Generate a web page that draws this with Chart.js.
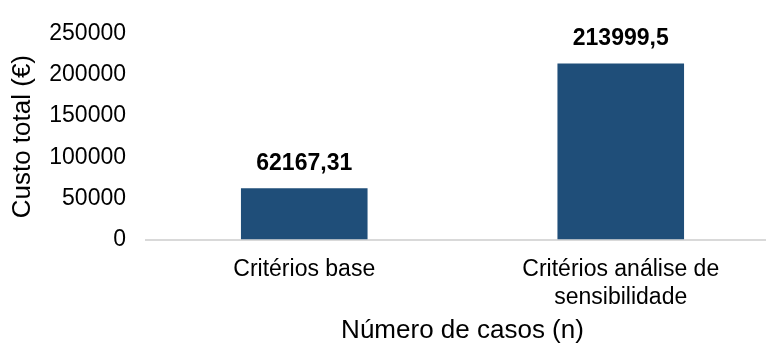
<!DOCTYPE html>
<html>
<head>
<meta charset="utf-8">
<script src="https://cdn.jsdelivr.net/npm/chart.js@4.4.0/dist/chart.umd.min.js"></script>
<style>
  html, body { margin: 0; padding: 0; background: #fff; }
  #wrap { width: 766px; height: 344px; }
</style>
</head>
<body>
<div id="wrap"><canvas id="chart"></canvas></div>
<script>
// --- DATA ---
const categories = [['Critérios base'], ['Critérios análise de', 'sensibilidade']];
const custoTotal = [62167.31, 213999.5];
const valueLabels = ['62167,31', '213999,5'];
const yTicks = [0, 50000, 100000, 150000, 200000, 250000];

const FONT = '"Liberation Sans", Arial, sans-serif';

// the plot area in the original runs a bit past the right edge of the picture
const widenPlot = {
    id: 'widenPlot',
    afterLayout(chart) {
        const x = chart.scales.x;
        x.right = 779;
        x.width = x.right - x.left;
        x.configure();
        chart.chartArea.right = 779;
        chart.chartArea.width = 779 - chart.chartArea.left;
    }
};

// value labels above bars
const barLabels = {
    id: 'barLabels',
    afterDatasetsDraw(chart) {
        const ctx = chart.ctx;
        const meta = chart.getDatasetMeta(0);
        ctx.save();
        ctx.font = 'bold 23px ' + FONT;
        ctx.fillStyle = '#000';
        ctx.textAlign = 'center';
        ctx.textBaseline = 'middle';
        meta.data.forEach((bar, i) => {
            ctx.fillText(valueLabels[i], bar.x, bar.y - 25);
        });
        ctx.restore();
    }
};

new Chart(document.getElementById('chart'), {
    type: 'bar',
    data: {
        labels: categories,
        datasets: [{
            data: custoTotal,
            backgroundColor: '#1F4E79',
            barPercentage: 1,
            categoryPercentage: 0.4
        }]
    },
    options: {
        responsive: true,
        maintainAspectRatio: false,
        animation: false,
        layout: { padding: { top: 25, right: 0, left: 0, bottom: 0 } },
        plugins: { legend: { display: false }, tooltip: { enabled: false } },
        scales: {
            x: {
                afterFit: axis => { axis.height = 104.5; },
                grid: { display: false, drawTicks: false },
                border: { color: '#d9d9d9', width: 2 },
                ticks: { color: '#000', font: { family: FONT, size: 23 }, padding: 16.5 },
                title: { display: true, text: 'Número de casos (n)', color: '#000', font: { family: FONT, size: 26, lineHeight: 1 }, padding: { top: 6, bottom: 0 } }
            },
            y: {
                min: 0,
                max: 250000,
                afterFit: axis => { axis.width = 146; },
                afterBuildTicks: axis => { axis.ticks = yTicks.map(v => ({ value: v })); },
                grid: { display: false, drawTicks: false },
                border: { display: false },
                ticks: { color: '#000', font: { family: FONT, size: 23 }, padding: 20, callback: v => String(v) },
                title: { display: true, text: 'Custo total (€)', color: '#000', font: { family: FONT, size: 26, lineHeight: 1 }, padding: { top: 9.5, bottom: 0 } }
            }
        }
    },
    plugins: [widenPlot, barLabels]
});
</script>
</body>
</html>
